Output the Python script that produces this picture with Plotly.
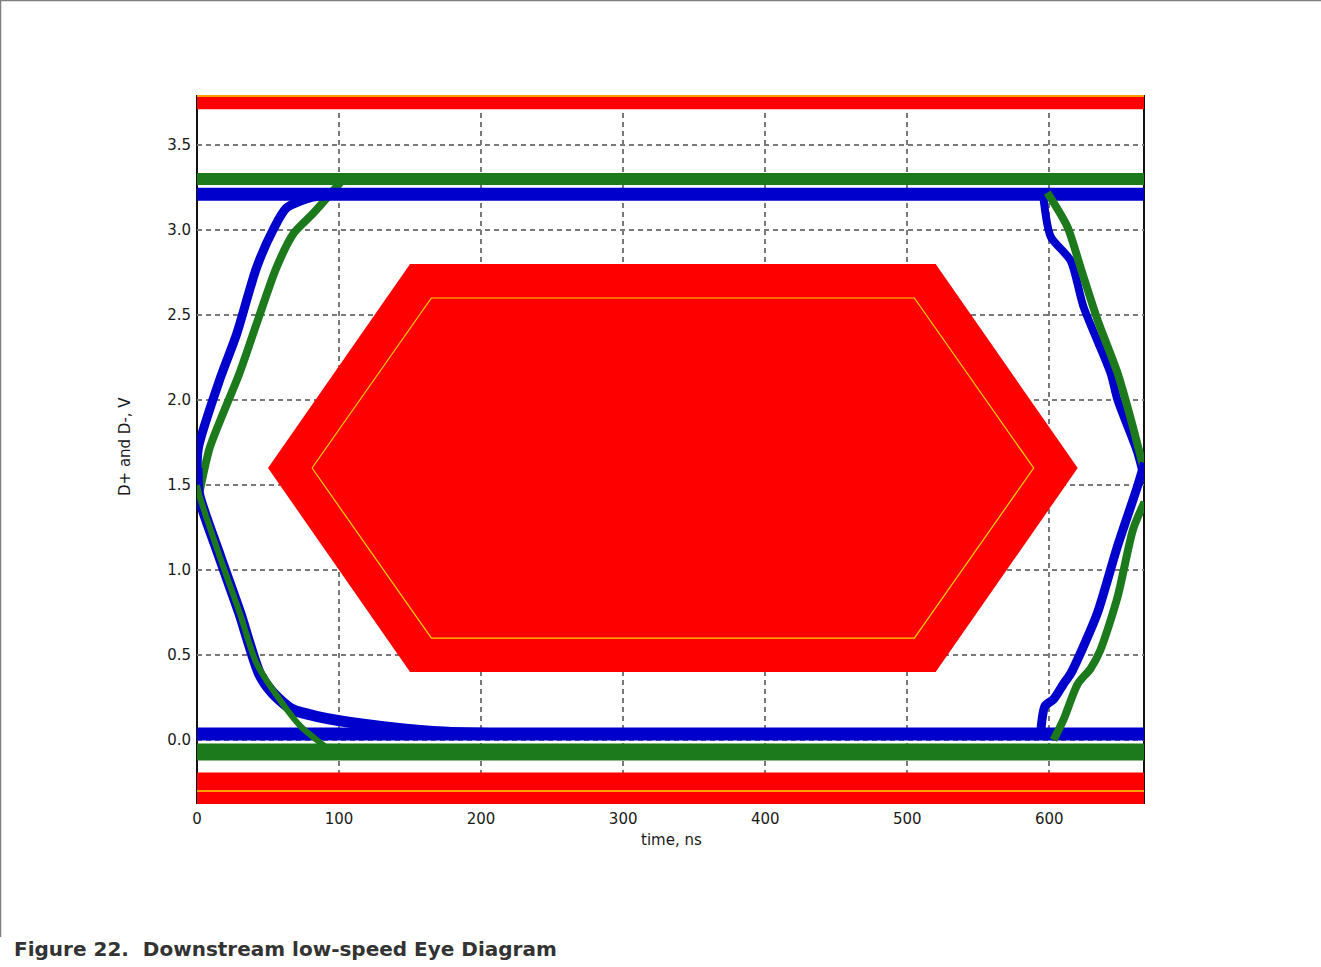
import plotly.graph_objects as go

# ---- Eye-diagram data: time in ns, voltage in V ----
T_END = 666.67  # one low-speed bit period

# steady logic levels (D+ blue, D- green)
blue_high_v = 3.21
green_high_v = 3.30
blue_low_v = 0.035
green_low_v = -0.07

# left-hand transitions
blue_rise_left_t = [0, 1, 16, 28, 42, 53.5, 63, 80, 100]
blue_rise_left_v = [1.55, 1.72, 2.12, 2.39, 2.78, 3.0, 3.13, 3.19, 3.21]
green_rise_left_t = [0, 2, 9, 30, 42, 56, 68, 82, 101]
green_rise_left_v = [1.40, 1.47, 1.72, 2.16, 2.45, 2.78, 2.98, 3.10, 3.28]
blue_fall_left_t = [0, 1, 16, 30, 44, 53, 67, 84, 120, 166, 220]
blue_fall_left_v = [1.60, 1.45, 1.08, 0.75, 0.39, 0.28, 0.18, 0.14, 0.09, 0.05, 0.035]
green_fall_left_t = [0, 2, 16, 30, 42, 58, 73, 92]
green_fall_left_v = [1.50, 1.43, 1.08, 0.75, 0.45, 0.24, 0.08, -0.05]

# right-hand transitions
blue_fall_right_t = [596, 601, 615, 624, 643, 648, 662, 667]
blue_fall_right_v = [3.18, 2.96, 2.82, 2.55, 2.16, 2.00, 1.69, 1.53]
green_fall_right_t = [598.6, 612.7, 622, 634, 648, 657, 667]
green_fall_right_v = [3.22, 3.02, 2.78, 2.47, 2.16, 1.90, 1.58]
blue_rise_right_t = [594, 597, 603, 610, 615, 624, 634, 648, 662, 667]
blue_rise_right_v = [0.05, 0.20, 0.24, 0.33, 0.39, 0.55, 0.75, 1.14, 1.49, 1.63]
green_rise_right_t = [603, 610, 620, 629, 636, 648, 659, 667]
green_rise_right_v = [0.00, 0.12, 0.33, 0.42, 0.53, 0.84, 1.24, 1.40]

# eye mask (outer keep-out region and inner template outline)
mask_outer_t = [50, 150, 520, 620, 520, 150]
mask_outer_v = [1.6, 2.8, 2.8, 1.6, 0.4, 0.4]
mask_inner_t = [81, 165, 505, 589, 505, 165]
mask_inner_v = [1.6, 2.6, 2.6, 1.6, 0.6, 0.6]

# upper / lower keep-out bands and their limit lines
top_band_v = [3.71, 3.82]
top_limit_v = 3.788
bottom_band_v = [-0.40, -0.19]
bottom_limit_v = -0.30

x_ticks = [0, 100, 200, 300, 400, 500, 600]
y_ticks = [0.0, 0.5, 1.0, 1.5, 2.0, 2.5, 3.0, 3.5]
y_tick_text = [f"{v:.1f}" for v in y_ticks]

X_RANGE = [0, T_END]
Y_RANGE = [-0.376, 3.794]

RED = "#FF0000"
YELLOW = "#FFD400"
BLUE = "#0000CC"
GREEN = "#1C7A1C"

# ---- page geometry ----
W, H = 1321, 967
ML, MR, MT, MB = 197, 177, 95, 163
PW, PH = W - ML - MR, H - MT - MB


def px_to_paper_x(px):
    return (px - ML) / PW


def px_to_paper_y(py):
    return (H - MB - py) / PH


fig = go.Figure()


def closed(xs, ys):
    return list(xs) + [xs[0]], list(ys) + [ys[0]]


# keep-out bands
for lo, hi in (top_band_v, bottom_band_v):
    fig.add_trace(go.Scatter(
        x=[-10, T_END + 10, T_END + 10, -10, -10], y=[lo, lo, hi, hi, lo],
        mode="lines", fill="toself", fillcolor=RED, line=dict(width=0, color=RED)))
for v in (top_limit_v, bottom_limit_v):
    fig.add_trace(go.Scatter(x=[-10, T_END + 10], y=[v, v], mode="lines",
                             line=dict(color=YELLOW, width=1.5)))

# hexagonal eye mask
ox, oy = closed(mask_outer_t, mask_outer_v)
fig.add_trace(go.Scatter(x=ox, y=oy, mode="lines", fill="toself", fillcolor=RED,
                         line=dict(width=0, color=RED)))
ix, iy = closed(mask_inner_t, mask_inner_v)
fig.add_trace(go.Scatter(x=ix, y=iy, mode="lines", line=dict(color=YELLOW, width=1.2)))


def level(v, color, width):
    fig.add_trace(go.Scatter(x=[0, T_END + 5], y=[v, v], mode="lines",
                             line=dict(color=color, width=width)))


def edge(t, v, color, width):
    fig.add_trace(go.Scatter(x=t, y=v, mode="lines",
                             line=dict(color=color, width=width, shape="spline",
                                       smoothing=0.7)))


# captured waveforms
edge(green_rise_left_t, green_rise_left_v, GREEN, 8)
level(green_high_v, GREEN, 12)
level(blue_high_v, BLUE, 13)
edge(blue_rise_left_t, blue_rise_left_v, BLUE, 9)
edge(blue_fall_left_t, blue_fall_left_v, BLUE, 11)
level(blue_low_v, BLUE, 13)
level(green_low_v, GREEN, 17)
edge(green_fall_left_t, green_fall_left_v, GREEN, 6)
edge(blue_fall_right_t, blue_fall_right_v, BLUE, 8)
edge(green_fall_right_t, green_fall_right_v, GREEN, 8)
edge(blue_rise_right_t, blue_rise_right_v, BLUE, 9)
edge(green_rise_right_t, green_rise_right_v, GREEN, 8)

tick_font = dict(family="DejaVu Sans", size=15, color="#1a1a1a")

fig.update_layout(
    width=W, height=H,
    margin=dict(l=ML, r=MR, t=MT, b=MB, autoexpand=False),
    paper_bgcolor="white", plot_bgcolor="white",
    showlegend=False, hovermode=False,
    xaxis=dict(range=X_RANGE, tickvals=x_ticks, ticktext=[str(t) for t in x_ticks],
               showgrid=True, gridcolor="#7a7a7a", gridwidth=1.5, griddash="5px,4px",
               zeroline=False, showline=False, ticks="", tickfont=tick_font,
               ticklabelstandoff=4),
    yaxis=dict(range=Y_RANGE, tickvals=y_ticks, ticktext=y_tick_text,
               showgrid=True, gridcolor="#7a7a7a", gridwidth=1.5, griddash="5px,4px",
               zeroline=False, showline=False, ticks="", tickfont=tick_font,
               ticklabelstandoff=5),
)

# plot frame verticals (left and right), under the traces
for xp in (0, 1):
    fig.add_shape(type="line", xref="paper", yref="paper", x0=xp, x1=xp, y0=0, y1=1,
                  line=dict(color="#111111", width=2), layer="below")

# page border: top and left edges
fig.add_shape(type="line", xref="paper", yref="paper",
              x0=px_to_paper_x(0), x1=px_to_paper_x(W), y0=px_to_paper_y(0.5), y1=px_to_paper_y(0.5),
              line=dict(color="#808080", width=1.5))
fig.add_shape(type="line", xref="paper", yref="paper",
              x0=px_to_paper_x(0.5), x1=px_to_paper_x(0.5), y0=px_to_paper_y(0), y1=px_to_paper_y(937),
              line=dict(color="#808080", width=1.5))

# axis titles
fig.add_annotation(text="time, ns", xref="paper", yref="paper",
                   x=px_to_paper_x(671), y=px_to_paper_y(840), showarrow=False,
                   xanchor="center", yanchor="middle", font=tick_font)
fig.add_annotation(text="D+ and D-, V", xref="paper", yref="paper",
                   x=px_to_paper_x(125), y=px_to_paper_y(447), showarrow=False,
                   xanchor="center", yanchor="middle", textangle=-90, font=tick_font)

# figure caption
fig.add_annotation(text="<b>Figure 22.\u00a0\u00a0Downstream low-speed Eye Diagram</b>",
                   xref="paper", yref="paper",
                   x=px_to_paper_x(12), y=px_to_paper_y(949), showarrow=False,
                   xanchor="left", yanchor="middle",
                   font=dict(family="DejaVu Sans", size=20, color="#333333"))

fig.write_html("out.html")
